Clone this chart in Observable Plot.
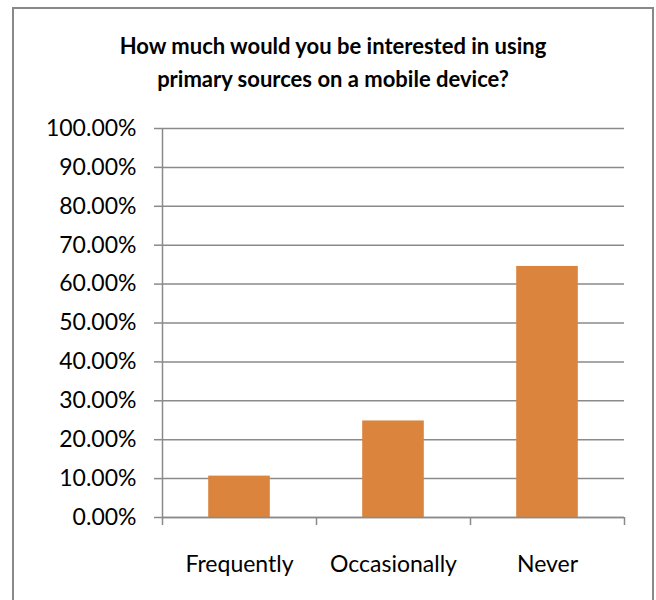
<!DOCTYPE html>
<html>
<head>
<meta charset="utf-8">
<script src="https://cdn.jsdelivr.net/npm/d3@7"></script>
<script src="https://cdn.jsdelivr.net/npm/@observablehq/plot@0.6"></script>
<style>
  html, body { margin: 0; padding: 0; background: #fff; }
  #wrap { position: relative; width: 656px; height: 600px; overflow: hidden; font-family: Lato, "Open Sans", sans-serif; }
  #frame { position: absolute; left: 12px; top: 7px; width: 638px; height: 640px; border: 2px solid #898989; }
  #title { position: absolute; left: 13px; top: 29px; width: 640px; text-align: center; font-weight: bold; font-size: 22px; line-height: 33px; color: #000; }
  #chart { position: absolute; left: 0; top: 0; }
</style>
</head>
<body>
<div id="wrap">
  <div id="frame"></div>
  <div id="title">How much would you be interested in using<br>primary sources on a mobile device?</div>
  <div id="chart"></div>
</div>
<script>
const categories = ["Frequently", "Occasionally", "Never"];
const values = [0.1064, 0.2482, 0.6454];
const yTicks = [0, 0.1, 0.2, 0.3, 0.4, 0.5, 0.6, 0.7, 0.8, 0.9, 1.0];

const data = categories.map((c, i) => ({category: c, index: i, value: values[i]}));
const boundaryTicks = d3.range(categories.length + 1);
const centerTicks = categories.map((c, i) => i + 0.5);
const gray = "#8a8a8a";

const chart = Plot.plot({
  width: 656,
  height: 600,
  marginTop: 128,
  marginBottom: 83,
  marginLeft: 162,
  marginRight: 32,
  style: {fontFamily: "Lato, 'Open Sans', sans-serif", fontSize: "23px", color: "#000", background: "transparent"},
  x: {type: "linear", domain: [0, categories.length]},
  y: {domain: [0, 1]},
  marks: [
    Plot.gridY(yTicks, {stroke: gray, strokeOpacity: 1, strokeWidth: 1.5}),
    Plot.rectY(data, {x1: d => d.index + 0.3, x2: d => d.index + 0.7, y: "value", fill: "#DB843D"}),
    Plot.ruleY([0], {stroke: gray, strokeWidth: 1.5}),
    Plot.ruleX([0], {y1: 0, y2: 1, stroke: gray, strokeWidth: 1.5}),
    Plot.axisY({ticks: yTicks, tickFormat: d3.format(".2%"), tickSize: 8, tickPadding: 18, stroke: gray, strokeOpacity: 1, strokeWidth: 1.5, fill: "#000", label: null}),
    Plot.axisX({ticks: boundaryTicks, tickSize: 8, tickFormat: () => "", stroke: gray, strokeOpacity: 1, strokeWidth: 1.5, label: null}),
    Plot.axisX({ticks: centerTicks, tickSize: 0, tickPadding: 38, tickFormat: d => categories[Math.floor(d)], fill: "#000", label: null})
  ]
});
document.getElementById("chart").appendChild(chart);
</script>
</body>
</html>
